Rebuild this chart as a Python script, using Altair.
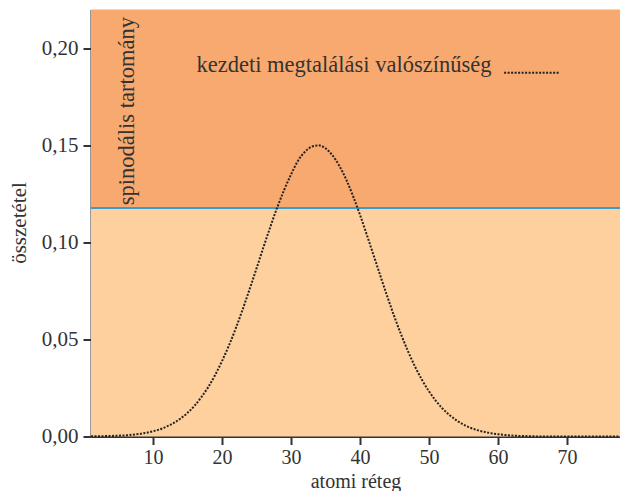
import altair as alt
import pandas as pd

# x positions (atomic layer) and read-off composition values of the dotted curve
layers = list(range(1, 79))
prob = [0.0001, 0.0001, 0.0002, 0.0003, 0.0004, 0.0006, 0.0009, 0.0013, 0.0019, 0.0027,
        0.0037, 0.0052, 0.0070, 0.0093, 0.0122, 0.0158, 0.0203, 0.0255, 0.0317, 0.0389,
        0.0469, 0.0558, 0.0656, 0.0759, 0.0866, 0.0975, 0.1080, 0.1180, 0.1270, 0.1350,
        0.1420, 0.1466, 0.1493, 0.1500, 0.1485, 0.1449, 0.1395, 0.1324, 0.1238, 0.1142,
        0.1038, 0.0931, 0.0823, 0.0717, 0.0616, 0.0522, 0.0436, 0.0359, 0.0291, 0.0233,
        0.0184, 0.0143, 0.0110, 0.0083, 0.0062, 0.0045, 0.0033, 0.0024, 0.0017, 0.0012,
        0.0008, 0.0005, 0.0003, 0.0002, 0.0001, 0.0, 0.0, 0.0, 0.0, 0.0,
        0.0, 0.0, 0.0, 0.0, 0.0, 0.0, 0.0, 0.0]

x_domain = [1, 77.7]
y_domain = [0, 0.22]
spinodal = 0.1177
x_ticks = [10, 20, 30, 40, 50, 60, 70]
y_ticks = [0.0, 0.05, 0.10, 0.15, 0.20]

band_lo = [0.0, spinodal]
band_hi = [spinodal, 0.22]
band_col = ["#FDD09E", "#F8A96F"]

label_spin = "spinodális tartomány"
label_prob = "kezdeti megtalálási valószínűség"
x_title = "atomi réteg"
y_title = "összetétel"

FONT = "Liberation Serif"

curve_df = pd.DataFrame({"x": layers, "y": prob})
band_df = pd.DataFrame({"x0": [x_domain[0]] * 2, "x1": [x_domain[1]] * 2,
                        "y0": band_lo, "y1": band_hi, "c": band_col})
rule_df = pd.DataFrame({"y": [spinodal]})
spin_df = pd.DataFrame({"x": [7.2], "y": [0.1192], "t": [label_spin]})
prob_df = pd.DataFrame({"x": [16.3], "y": [0.1878], "t": [label_prob]})
leg_df = pd.DataFrame({"x": [60.9, 68.9], "y": [0.1874, 0.1874]})

xs = alt.Scale(domain=x_domain, nice=False, zero=False)
ys = alt.Scale(domain=y_domain, nice=False)

xaxis = alt.Axis(values=x_ticks, title=x_title, grid=False, tickSize=8, labelPadding=3,
                 labelFontSize=20,
                 titleY=50.5, titleBaseline="alphabetic", titleFontSize=20)
yaxis = alt.Axis(values=y_ticks, title=y_title, grid=False, tickSize=8, labelPadding=5,
                 labelExpr="replace(format(datum.value, '.2f'), '.', ',')",
                 titleX=-72, titleY=213, titleAngle=-90, titleBaseline="middle",
                 titleAlign="center")

bands = alt.Chart(band_df).mark_rect().encode(
    x=alt.X("x0:Q", scale=xs, axis=xaxis),
    x2="x1:Q",
    y=alt.Y("y0:Q", scale=ys, axis=yaxis),
    y2="y1:Q",
    color=alt.Color("c:N", scale=None),
)

rule = alt.Chart(rule_df).mark_rule(color="#3A9CC8", strokeWidth=2).encode(
    y=alt.Y("y:Q", scale=ys)
)

curve = alt.Chart(curve_df).mark_line(
    color="#222222", strokeWidth=2, strokeDash=[2, 1.5], interpolate="monotone"
).encode(x=alt.X("x:Q", scale=xs), y=alt.Y("y:Q", scale=ys))

legline = alt.Chart(leg_df).mark_line(
    color="#222222", strokeWidth=2, strokeDash=[2, 1.5]
).encode(x=alt.X("x:Q", scale=xs), y=alt.Y("y:Q", scale=ys))

spin_text = alt.Chart(spin_df).mark_text(
    angle=270, align="left", baseline="alphabetic", font=FONT, fontSize=22.5, color="#333333"
).encode(x=alt.X("x:Q", scale=xs), y=alt.Y("y:Q", scale=ys), text="t:N")

prob_text = alt.Chart(prob_df).mark_text(
    align="left", baseline="alphabetic", font=FONT, fontSize=22.5, color="#333333"
).encode(x=alt.X("x:Q", scale=xs), y=alt.Y("y:Q", scale=ys), text="t:N")

chart = alt.layer(bands, rule, curve, legline, spin_text, prob_text).properties(
    width=529, height=427,
    autosize=alt.AutoSizeParams(type="none"),
    padding={"left": 83, "top": 1.5, "right": 0, "bottom": 54.5},
    background="white",
).configure_view(stroke=None).configure_axis(
    domainColor="#333333", domainWidth=2, tickColor="#333333", tickWidth=2,
    labelFont=FONT, labelFontSize=21, labelColor="#333333",
    titleFont=FONT, titleFontSize=21, titleColor="#333333", titleFontWeight="normal",
)

chart.save("out.html", embed_options={"renderer": "svg", "actions": False})
